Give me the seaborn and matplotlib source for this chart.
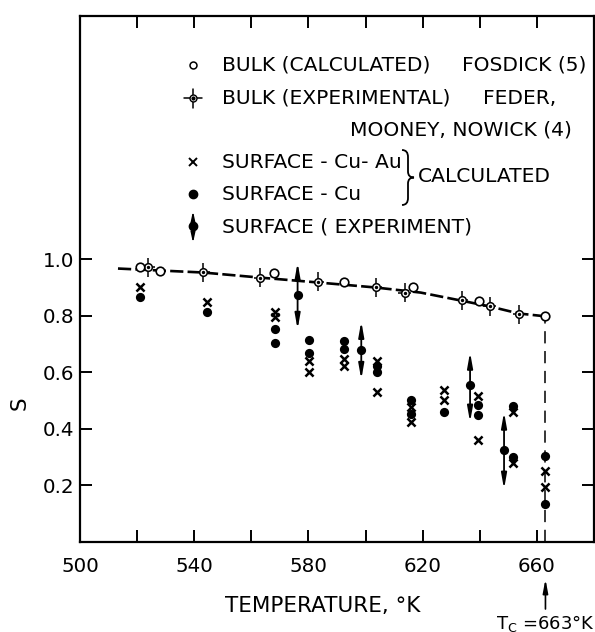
import numpy as np
import pandas as pd
import matplotlib
matplotlib.use("Agg")
import matplotlib.pyplot as plt
import seaborn as sns
from matplotlib.path import Path
from matplotlib.patches import PathPatch

# ---------------- data ----------------
bulk_calc_T = [521.1, 528.1, 568.1, 592.3, 616.5, 639.6, 663.0]
bulk_calc_S = [0.971, 0.957, 0.950, 0.918, 0.900, 0.851, 0.798]

bulk_exp_T = [523.9, 543.2, 563.2, 583.2, 603.5, 613.7, 633.7, 643.5, 653.7]
bulk_exp_S = [0.971, 0.953, 0.935, 0.921, 0.900, 0.882, 0.854, 0.833, 0.805]
bulk_exp_dS = 0.033
bulk_exp_dT = 2.2

cuau_T = [521.0, 544.4, 568.2, 568.2, 580.2, 580.2, 592.4, 592.4, 604.0, 604.0,
          616.0, 616.0, 627.5, 627.5, 639.5, 639.5, 651.5, 651.5, 663.0, 663.0]
cuau_S = [0.900, 0.847, 0.812, 0.794, 0.639, 0.600, 0.646, 0.621, 0.639, 0.529,
          0.477, 0.424, 0.537, 0.501, 0.515, 0.360, 0.459, 0.279, 0.251, 0.194]

cu_T = [521.0, 544.4, 568.2, 568.2, 580.2, 580.2, 592.4, 592.4, 604.0, 604.0,
        616.0, 616.0, 627.5, 639.5, 639.5, 651.5, 651.5, 663.0, 663.0]
cu_S = [0.868, 0.815, 0.752, 0.702, 0.713, 0.667, 0.709, 0.681, 0.621, 0.600,
        0.501, 0.452, 0.459, 0.484, 0.448, 0.480, 0.300, 0.304, 0.134]

exp_T = [576.2, 598.5, 636.6, 648.5]
exp_S = [0.872, 0.678, 0.554, 0.325]
exp_lo = [0.752, 0.575, 0.424, 0.187]
exp_hi = [0.988, 0.780, 0.671, 0.459]

curve_T = [513.3, 528, 543, 563, 583, 603.5, 619.3, 633.3, 643.5, 653.7, 663]
curve_S = [0.967, 0.960, 0.953, 0.935, 0.918, 0.900, 0.882, 0.854, 0.833, 0.808, 0.798]
Tc = 663

x_major = [500, 540, 580, 620, 660]
x_minor = [520, 560, 600, 640]
y_ticks = [0.2, 0.4, 0.6, 0.8, 1.0]

# ---------------- style ----------------
sns.set_style("ticks")
plt.rcParams['font.family'] = ['DejaVu Sans']
plt.rcParams['mathtext.fontset'] = 'dejavusans'
for k in ['text.color', 'axes.labelcolor', 'xtick.color', 'ytick.color',
          'axes.edgecolor']:
    plt.rcParams[k] = 'black'

W, H = 595, 632
fig = plt.figure(figsize=(W / 100, H / 100), dpi=100)
ax = fig.add_axes([80 / W, 1 - 542 / H, 514 / W, 526 / H])

def P(px, py):
    return (px / W, 1 - py / H)

# dashed bulk curve and Tc line
sns.lineplot(x=curve_T, y=curve_S, ax=ax, color='k', lw=1.9,
             linestyle=(0, (5, 1.6)), sort=False, estimator=None, zorder=2)
ax.plot([Tc, Tc], [0, curve_S[-1]], color='k', lw=1.1, linestyle=(0, (8, 5)), zorder=1)

# bulk experimental with error bars
ax.errorbar(bulk_exp_T, bulk_exp_S, xerr=bulk_exp_dT, yerr=bulk_exp_dS, fmt='none',
            ecolor='k', elinewidth=1.1, capsize=0, zorder=3)
sns.scatterplot(x=bulk_exp_T, y=bulk_exp_S, ax=ax, marker='o', s=30,
                facecolor='white', edgecolor='k', linewidth=1.1, zorder=4)
sns.scatterplot(x=bulk_exp_T, y=bulk_exp_S, ax=ax, marker='o', s=6,
                color='k', linewidth=0, zorder=5)

# bulk calculated
sns.scatterplot(x=bulk_calc_T, y=bulk_calc_S, ax=ax, marker='o', s=38,
                facecolor='white', edgecolor='k', linewidth=1.2, zorder=4)

# surface calc
sns.scatterplot(x=cuau_T, y=cuau_S, ax=ax, marker='x', s=34, color='k',
                linewidth=1.8, zorder=4)
sns.scatterplot(x=cu_T, y=cu_S, ax=ax, marker='o', s=44, color='k',
                linewidth=0, zorder=4)

# surface experiment
for t, s0, lo, hi in zip(exp_T, exp_S, exp_lo, exp_hi):
    ax.annotate('', xy=(t, hi), xytext=(t, lo),
                arrowprops=dict(arrowstyle='<|-|>,head_length=0.9,head_width=0.16',
                                color='k', lw=1.3, shrinkA=0, shrinkB=0), zorder=3)
sns.scatterplot(x=exp_T, y=exp_S, ax=ax, marker='o', s=44, color='k',
                linewidth=0, zorder=5)

# ---------------- axes ----------------
ax.set_xlim(500, 680)
ax.set_ylim(0, 1.86)
ax.set_xticks(x_major)
ax.set_xticklabels([str(v) for v in x_major])
ax.set_xticks(x_minor, minor=True)
ax.set_yticks(y_ticks)
ax.set_yticklabels([f"{v:.1f}" for v in y_ticks])
ax.tick_params(which='both', direction='in', length=8.5, width=1.4,
               top=True, right=True, labelsize=14.3, color='k', labelcolor='k')
ax.tick_params(axis='x', pad=11)
ax.tick_params(axis='y', pad=4)
for sp in ax.spines.values():
    sp.set_linewidth(1.6)
    sp.set_color('k')

ax.set_xlabel("TEMPERATURE, °K", fontsize=15.5)
ax.xaxis.set_label_coords((323 - 80) / 514, (542 - 606) / 526)
ax.xaxis.label.set_va('center')
ax.set_ylabel("S", fontsize=15.5)
ax.yaxis.set_label_coords((20 - 80) / 514, (542 - 403) / 526)
ax.yaxis.label.set_va('center')

# Tc annotation
ax.annotate('', xy=(Tc, (542 - 579) / 526), xytext=(Tc, (542 - 609) / 526),
            xycoords=('data', 'axes fraction'), textcoords=('data', 'axes fraction'),
            arrowprops=dict(arrowstyle='-|>,head_length=0.8,head_width=0.15',
                            color='k', lw=1.2, shrinkA=0, shrinkB=0),
            annotation_clip=False)
ax.text(Tc, (542 - 623) / 526, r"T$_\mathregular{C}$ =663°K",
        transform=ax.get_xaxis_transform(), ha='center', va='center', fontsize=13)

# ---------------- legend (manual) ----------------
fs = 14.6
tf = fig.transFigure
fig.text(*P(222, 65), "BULK (CALCULATED)", fontsize=fs, va='center', ha='left')
fig.text(*P(462, 65), "FOSDICK (5)", fontsize=fs, va='center', ha='left')
fig.text(*P(222, 98), "BULK (EXPERIMENTAL)", fontsize=fs, va='center', ha='left')
fig.text(*P(483, 98), "FEDER,", fontsize=fs, va='center', ha='left')
fig.text(*P(350, 130), "MOONEY, NOWICK (4)", fontsize=fs, va='center', ha='left')
fig.text(*P(222, 162), "SURFACE - Cu- Au", fontsize=fs, va='center', ha='left')
fig.text(*P(222, 194), "SURFACE - Cu", fontsize=fs, va='center', ha='left')
fig.text(*P(418, 177), "CALCULATED", fontsize=fs, va='center', ha='left')
fig.text(*P(222, 227), "SURFACE ( EXPERIMENT)", fontsize=fs, va='center', ha='left')

# legend symbols
lx = 193
fig.lines.append(plt.Line2D(*zip(P(lx, 65)), marker='o', ms=5, mfc='white', mec='k',
                            mew=1.1, ls='none', transform=tf))
fig.lines.append(plt.Line2D([P(lx - 9, 98)[0], P(lx + 9, 98)[0]], [P(lx, 98)[1]] * 2,
                            color='k', lw=1.1, transform=tf))
fig.lines.append(plt.Line2D([P(lx, 89)[0]] * 2, [P(lx, 89)[1], P(lx, 108)[1]],
                            color='k', lw=1.1, transform=tf))
fig.lines.append(plt.Line2D(*zip(P(lx, 98)), marker='o', ms=5, mfc='white', mec='k',
                            mew=1.0, ls='none', transform=tf))
fig.lines.append(plt.Line2D(*zip(P(lx, 98)), marker='o', ms=2, mfc='k', mec='k',
                            ls='none', transform=tf))
fig.lines.append(plt.Line2D(*zip(P(lx, 162)), marker='x', ms=5.5, mec='k', mew=1.4,
                            ls='none', transform=tf))
fig.lines.append(plt.Line2D(*zip(P(lx, 194)), marker='o', ms=6, mfc='k', mec='k',
                            ls='none', transform=tf))
fig.lines.append(plt.Line2D(*zip(P(lx, 226)), marker='o', ms=6, mfc='k', mec='k',
                            ls='none', transform=tf))
ax.annotate('', xy=P(lx, 211), xytext=P(lx, 243), xycoords='figure fraction',
            textcoords='figure fraction',
            arrowprops=dict(arrowstyle='<|-|>,head_length=0.6,head_width=0.13',
                            color='k', lw=1.1, shrinkA=0, shrinkB=0),
            annotation_clip=False)

# brace
bx0, bx1, bx2 = 402, 408, 414
yt, yb, ym = 150, 205, 177.5
pts = [(bx0, yt), (bx1, yt), (bx1, yt + 7), (bx1, ym - 6), (bx1, ym), (bx2, ym),
       (bx1, ym), (bx1, ym + 6), (bx1, yb - 7), (bx1, yb), (bx0, yb)]
codes = [Path.MOVETO, Path.CURVE3, Path.CURVE3, Path.LINETO, Path.CURVE3, Path.CURVE3,
         Path.CURVE3, Path.CURVE3, Path.LINETO, Path.CURVE3, Path.CURVE3]
verts = [P(x, y) for x, y in pts]
fig.patches.append(PathPatch(Path(verts, codes), fill=False, lw=1.3, ec='k',
                             transform=tf))

fig.savefig("out.png", dpi=100)
